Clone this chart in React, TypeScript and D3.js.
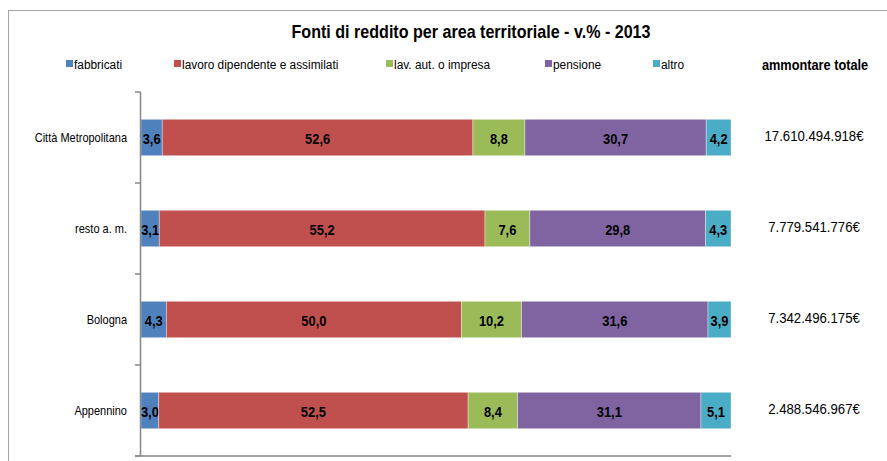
import React from "react";
import * as d3 from "d3";

const categories = ["Città Metropolitana", "resto a. m.", "Bologna", "Appennino"];
const seriesNames = ["fabbricati", "lavoro dipendente e assimilati", "lav. aut. o impresa", "pensione", "altro"];
const fabbricati = [3.6, 3.1, 4.3, 3.0];
const lavoro = [52.6, 55.2, 50.0, 52.5];
const lavAut = [8.8, 7.6, 10.2, 8.4];
const pensione = [30.7, 29.8, 31.6, 31.1];
const altro = [4.2, 4.3, 3.9, 5.1];
const totals = ["17.610.494.918€", "7.779.541.776€", "7.342.496.175€", "2.488.546.967€"];
const colors = ["#4F81BD", "#C0504D", "#9BBB59", "#8064A2", "#4BACC6"];

const title = "Fonti di reddito per area territoriale - v.% - 2013";
const totalsHeader = "ammontare totale";

const W = 887;
const H = 461;
const FONT = "'Liberation Sans', Arial, sans-serif";

function SqText(props: {
  x: number;
  y: number;
  sx: number;
  size: number;
  anchor?: string;
  bold?: boolean;
  children: React.ReactNode;
}) {
  const { x, y, sx, size, anchor, bold, children } = props;
  return (
    <text
      transform={`translate(${x},${y}) scale(${sx},1)`}
      textAnchor={anchor || "start"}
      fontSize={size}
      fontWeight={bold ? "bold" : "normal"}
      fill="#000"
    >
      {children}
    </text>
  );
}

export default function App() {
  const seriesValues = [fabbricati, lavoro, lavAut, pensione, altro];
  const rows = categories.map((c, i) => {
    const r: any = { cat: c };
    seriesNames.forEach((s, j) => (r[s] = seriesValues[j][i]));
    return r;
  });
  const stack = d3.stack<any>().keys(seriesNames).offset(d3.stackOffsetExpand);
  const stacked = stack(rows);

  const x = d3.scaleLinear().domain([0, 1]).range([141, 731]);
  const y = d3.scaleBand<string>().domain(categories).range([92, 456]).paddingInner(0.6).paddingOuter(0.3);
  const step = y.step();
  const bw = y.bandwidth();
  const fmt = (v: number) => d3.format(".1f")(v).replace(".", ",");

  const legendX = [66, 174, 386, 545, 653];
  const tickYs = d3.range(categories.length + 1).map((i) => 92 + i * step);
  const axisColor = "#868686";

  return (
    <svg width={W} height={H} style={{ position: "absolute", left: 0, top: 0, background: "#fff" }} fontFamily={FONT}>
      <rect x={8.5} y={10.5} width={1000} height={1000} fill="#fff" stroke="#a5a5a5" strokeWidth={1} />
      <SqText x={471} y={37.5} sx={0.92} size={17.5} anchor="middle" bold>{title}</SqText>

      {seriesNames.map((s, i) => (
        <g key={s}>
          <rect x={legendX[i]} y={60} width={7} height={7} fill={colors[i]} />
          <SqText x={legendX[i] + 8} y={69} sx={0.88} size={13.5}>{s}</SqText>
        </g>
      ))}
      <SqText x={815} y={69.5} sx={0.88} size={14.5} anchor="middle" bold>{totalsHeader}</SqText>

      {stacked.map((layer, li) => (
        <g key={layer.key}>
          {layer.map((d, ci) => {
            const x0 = x(d[0]);
            const x1 = x(d[1]);
            const yy = y(categories[ci])!;
            return (
              <g key={ci}>
                <rect x={x0} y={yy} width={x1 - x0} height={bw} fill={colors[li]} stroke="#ffffff" strokeOpacity={0.45} strokeWidth={0.8} />
                <SqText x={(x0 + x1) / 2} y={yy + bw / 2 + 6} sx={0.86} size={15} anchor="middle" bold>
                  {fmt(seriesValues[li][ci])}
                </SqText>
              </g>
            );
          })}
        </g>
      ))}

      <line x1={140.5} x2={140.5} y1={92} y2={456} stroke={axisColor} strokeWidth={1.5} />
      <line x1={135} x2={731} y1={456} y2={456} stroke={axisColor} strokeWidth={1.5} />
      {tickYs.map((t, i) => (
        <line key={i} x1={135} x2={140.5} y1={t} y2={t} stroke={axisColor} strokeWidth={1.5} />
      ))}

      {categories.map((c) => (
        <SqText key={c} x={127} y={y(c)! + bw / 2 + 4.5} sx={0.88} size={12.5} anchor="end">{c}</SqText>
      ))}

      {categories.map((c, i) => (
        <SqText key={c} x={814} y={y(c)! + bw / 2 + 3.5} sx={0.88} size={15} anchor="middle">{totals[i]}</SqText>
      ))}
    </svg>
  );
}
